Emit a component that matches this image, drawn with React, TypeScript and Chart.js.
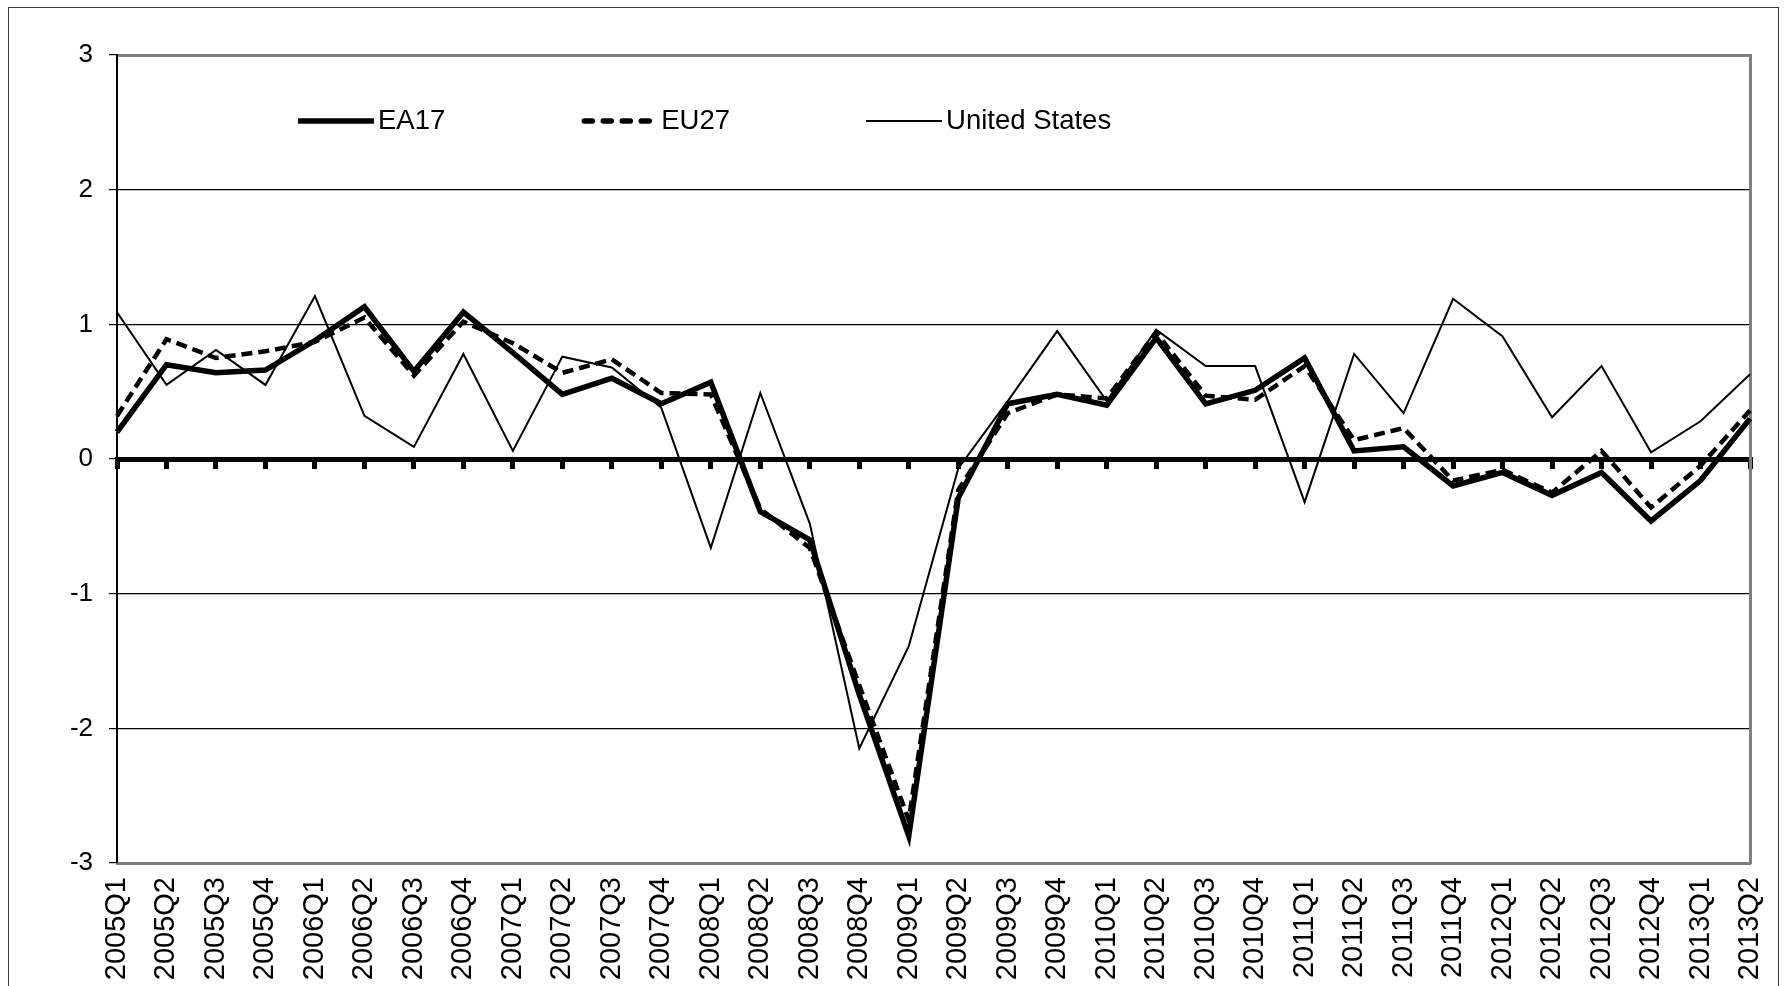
import React, { useEffect, useRef } from 'react';
import { Chart, registerables } from 'chart.js';

Chart.register(...registerables);

const quarters = [
  '2005Q1', '2005Q2', '2005Q3', '2005Q4',
  '2006Q1', '2006Q2', '2006Q3', '2006Q4',
  '2007Q1', '2007Q2', '2007Q3', '2007Q4',
  '2008Q1', '2008Q2', '2008Q3', '2008Q4',
  '2009Q1', '2009Q2', '2009Q3', '2009Q4',
  '2010Q1', '2010Q2', '2010Q3', '2010Q4',
  '2011Q1', '2011Q2', '2011Q3', '2011Q4',
  '2012Q1', '2012Q2', '2012Q3', '2012Q4',
  '2013Q1', '2013Q2',
];

const ea17 = [
  0.20, 0.70, 0.64, 0.66,
  0.88, 1.13, 0.65, 1.09,
  0.79, 0.48, 0.60, 0.41,
  0.57, -0.39, -0.60, -1.75,
  -2.80, -0.29, 0.41, 0.48,
  0.40, 0.90, 0.41, 0.51,
  0.75, 0.06, 0.09, -0.20,
  -0.10, -0.27, -0.10, -0.46,
  -0.16, 0.30,
];

const eu27 = [
  0.32, 0.89, 0.75, 0.80,
  0.87, 1.05, 0.62, 1.02,
  0.86, 0.64, 0.74, 0.49,
  0.48, -0.37, -0.66, -1.68,
  -2.68, -0.23, 0.34, 0.48,
  0.45, 0.94, 0.47, 0.44,
  0.69, 0.14, 0.23, -0.16,
  -0.08, -0.25, 0.06, -0.36,
  -0.05, 0.36,
];

const unitedStates = [
  1.09, 0.55, 0.81, 0.55,
  1.21, 0.32, 0.09, 0.78,
  0.06, 0.76, 0.68, 0.38,
  -0.66, 0.49, -0.48, -2.15,
  -1.39, -0.07, 0.43, 0.95,
  0.43, 0.96, 0.69, 0.69,
  -0.32, 0.78, 0.34, 1.19,
  0.91, 0.31, 0.69, 0.05,
  0.28, 0.63,
];

const seriesNames = ['EA17', 'EU27', 'United States'];
const yMin = -3;
const yMax = 3;
const yStep = 1;

const FONT = '"Liberation Sans", Arial, Helvetica, sans-serif';

const inlineLegend = {
  id: 'inlineLegend',
  afterDatasetsDraw(chart: any) {
    const { ctx, chartArea } = chart;
    ctx.save();
    ctx.font = `27.5px ${FONT}`;
    ctx.textBaseline = 'middle';
    ctx.textAlign = 'left';
    let x = chartArea.left + 181;
    const y = chartArea.top + 66;
    chart.data.datasets.forEach((ds: any) => {
      ctx.beginPath();
      ctx.setLineDash(ds.legendDash || []);
      ctx.lineCap = ds.legendDash ? 'round' : 'butt';
      ctx.lineWidth = ds.legendWidth || ds.borderWidth;
      ctx.strokeStyle = ds.borderColor;
      const x0 = ds.legendDash ? x + 3 : x;
      ctx.moveTo(x0, y);
      ctx.lineTo(x + 76, y);
      ctx.stroke();
      ctx.setLineDash([]);
      ctx.fillStyle = '#000';
      ctx.fillText(ds.label, x + 80, y);
      x += 80 + ctx.measureText(ds.label).width + 136;
    });
    ctx.restore();
  },
};

export default function App() {
  const ref = useRef<HTMLCanvasElement | null>(null);

  useEffect(() => {
    if (!ref.current) return;
    const chart = new Chart(ref.current, {
      type: 'line',
      data: {
        labels: quarters,
        datasets: [
          {
            label: seriesNames[0],
            data: ea17,
            borderColor: '#000',
            backgroundColor: '#000',
            borderWidth: 5.5,
            pointRadius: 0,
            tension: 0,
            borderJoinStyle: 'miter',
          },
          {
            label: seriesNames[1],
            data: eu27,
            borderColor: '#000',
            backgroundColor: '#000',
            borderWidth: 4.5,
            borderDash: [11, 6],
            pointRadius: 0,
            tension: 0,
            legendDash: [8, 11],
            legendWidth: 5.5,
          } as any,
          {
            label: seriesNames[2],
            data: unitedStates,
            borderColor: '#000',
            backgroundColor: '#000',
            borderWidth: 2,
            pointRadius: 0,
            tension: 0,
          },
        ],
      },
      options: {
        responsive: false,
        animation: false,
        events: [],
        layout: { padding: { left: 0, right: 28, top: 47, bottom: 0 } },
        plugins: {
          legend: { display: false },
          tooltip: { enabled: false },
        },
        scales: {
          x: {
            type: 'category',
            position: 'bottom',
            grid: { display: true, drawOnChartArea: false, drawTicks: false, tickLength: 0 },
            border: { display: true, color: '#7f7f7f', width: 3 },
            ticks: {
              autoSkip: false,
              minRotation: 90,
              maxRotation: 90,
              padding: 14,
              color: '#000',
              font: { family: FONT, size: 29 },
            },
            afterFit: (s: any) => {
              s.height = 135;
              s.paddingLeft = 0;
              s.paddingRight = 0;
            },
          },
          xZero: {
            type: 'category',
            axis: 'x',
            position: { y: 0 },
            grid: { drawOnChartArea: false, drawTicks: true, tickLength: 7, lineWidth: 5, color: '#000' },
            border: { display: true, color: '#000', width: 5 },
            ticks: { display: false },
            afterFit: (s: any) => {
              s.paddingLeft = 0;
              s.paddingRight = 0;
            },
          },
          xTop: {
            type: 'category',
            axis: 'x',
            position: 'top',
            grid: { drawOnChartArea: false, drawTicks: false },
            border: { display: true, color: '#7f7f7f', width: 3 },
            ticks: { display: false },
            afterFit: (s: any) => {
              s.height = 0;
              s.paddingLeft = 0;
              s.paddingRight = 0;
            },
          },
          y: {
            type: 'linear',
            position: 'left',
            min: yMin,
            max: yMax,
            ticks: {
              stepSize: yStep,
              padding: 16,
              color: '#000',
              font: { family: FONT, size: 26 },
            },
            grid: { color: '#000', lineWidth: 1.2, drawTicks: true, tickLength: 8 },
            border: { display: true, color: '#000', width: 2 },
            afterFit: (s: any) => {
              s.width = 108;
              s.paddingTop = 0;
              s.paddingBottom = 0;
            },
          },
          yRight: {
            type: 'linear',
            axis: 'y',
            position: 'right',
            min: yMin,
            max: yMax,
            ticks: { display: false },
            grid: { drawOnChartArea: false, drawTicks: false },
            border: { display: true, color: '#7f7f7f', width: 3 },
            afterFit: (s: any) => {
              s.width = 0;
              s.paddingTop = 0;
              s.paddingBottom = 0;
            },
          },
        },
      } as any,
      plugins: [inlineLegend],
    });
    return () => chart.destroy();
  }, []);

  return (
    <div
      style={{
        position: 'fixed',
        left: 0,
        top: 0,
        width: 1785,
        height: 986,
        overflow: 'hidden',
        background: '#fff',
      }}
    >
      <div
        style={{
          position: 'absolute',
          left: 8,
          top: 7,
          width: 1771,
          height: 1000,
          border: '1px solid #3a3a3a',
          boxSizing: 'border-box',
        }}
      >
        <canvas ref={ref} width={1769} height={990} style={{ display: 'block', width: 1769, height: 990 }} />
      </div>
    </div>
  );
}
